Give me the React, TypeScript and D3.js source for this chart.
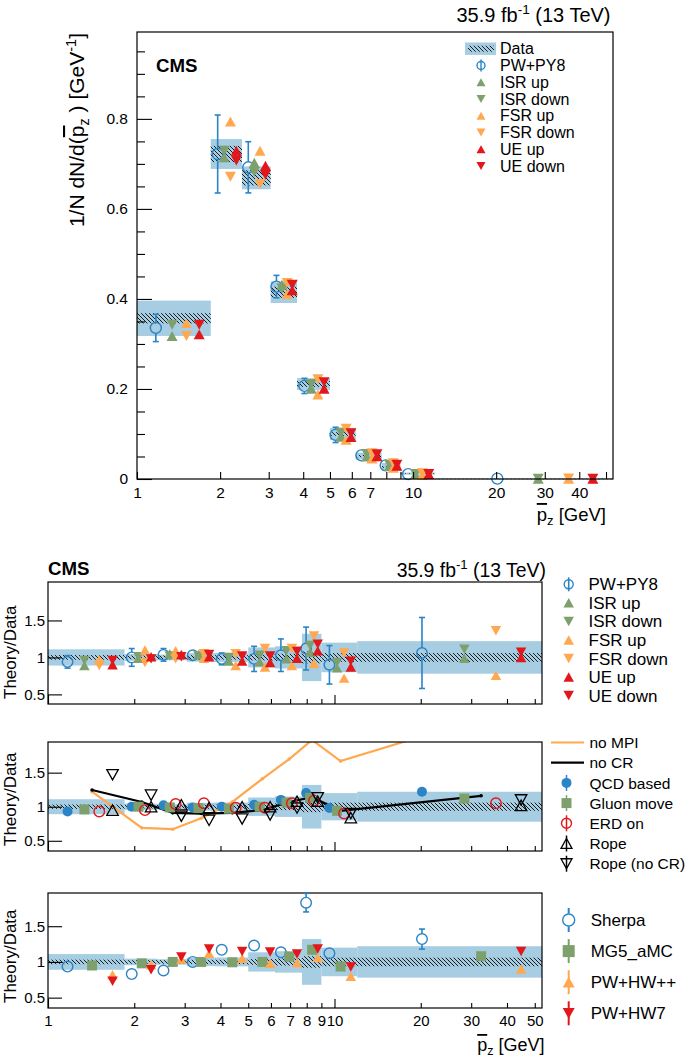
import React, { useEffect, useRef } from 'react';
import * as d3 from 'd3';

// bin edges of the pz distribution [GeV]
const binEdges = [1, 1.85, 2.4, 3.05, 3.8, 5.0, 6.2, 7.7, 9.0, 12, 53];

// unfolded data and its relative uncertainties (total / statistical)
const dataValues = [0.357, 0.722, 0.669, 0.415, 0.211, 0.1, 0.051, 0.027, 0.012, 0.0007];
const dataTotalUnc = [0.11, 0.046, 0.038, 0.058, 0.062, 0.135, 0.15, 0.32, 0.2, 0.22];
const dataStatUnc = [0.032, 0.025, 0.025, 0.03, 0.03, 0.04, 0.05, 0.08, 0.06, 0.06];

// panel 1: PW+PY8 and its variations, theory/data
const pwpy8Ratio = [0.94, 1.0, 1.035, 1.03, 0.98, 0.98, 1.03, 1.12, 0.9, 1.06];
const pwpy8Err = [0.085, 0.12, 0.085, 0.06, 0.08, 0.17, 0.22, 0.29, 0.26, 0.48];
const isrUpRatio = [0.89, 0.99, 1.05, 1.04, 0.95, 0.94, 0.98, 1.07, 0.86, 0.99];
const isrDownRatio = [0.96, 1.01, 1.02, 1.02, 1.0, 1.03, 1.09, 1.16, 0.93, 1.11];
const fsrUpRatio = [0.97, 1.1, 1.09, 0.99, 0.89, 0.87, 0.89, 0.92, 0.72, 0.76];
const fsrDownRatio = [0.89, 0.93, 0.98, 1.05, 1.05, 1.12, 1.12, 1.29, 1.06, 1.36];
const ueUpRatio = [0.9, 1.01, 1.04, 1.01, 0.95, 0.93, 0.99, 1.09, 0.87, 1.0];
const ueDownRatio = [0.96, 0.98, 1.01, 1.04, 1.02, 1.02, 1.08, 1.18, 0.95, 1.07];

// panel 2: colour reconnection / MPI models
const noMpiRatio = [1.22, 0.69, 0.67, 0.83, 1.07, 1.41, 1.7, 1.98, 1.67, 2.3];
const noCrRatio = [1.245, 1.07, 0.91, 0.9, 0.91, 0.95, 1.07, 1.14, 0.94, 1.16];
const qcdBasedRatio = [0.93, 1.0, 1.02, 0.99, 1.0, 1.03, 1.1, 1.2, 0.98, 1.22];
const gluonMoveRatio = [0.96, 1.0, 0.99, 0.98, 0.97, 1.0, 1.06, 1.13, 0.94, 1.12];
const erdOnRatio = [0.93, 0.95, 1.04, 1.05, 0.985, 0.985, 1.05, 1.09, 0.9, 1.05];
const ropeRatio = [0.95, 1.0, 1.03, 0.99, 1.0, 1.0, 1.08, 1.08, 0.84, 1.02];
const ropeNoCrRatio = [1.47, 1.17, 0.86, 0.8, 0.82, 0.88, 0.98, 1.13, 0.9, 1.1];

// panel 3: other generators
const sherpaRatio = [0.935, 0.83, 0.88, 1.0, 1.17, 1.23, 1.135, 1.83, 1.12, 1.32];
const sherpaErr = [0.015, 0.015, 0.015, 0.015, 0.02, 0.02, 0.05, 0.13, 0.08, 0.14];
const mg5Ratio = [0.95, 0.98, 1.0, 1.0, 0.995, 1.0, 1.075, 1.17, 0.935, 1.08];
const hwppRatio = [0.82, 0.96, 1.04, 1.12, 1.05, 0.98, 0.99, 1.06, 0.8, 0.9];
const hw7Ratio = [0.73, 0.89, 1.07, 1.18, 1.145, 1.14, 1.11, 1.18, 0.93, 1.145];

// axis ticks
const xLabelsTop = [1, 2, 3, 4, 5, 6, 7, 10, 20, 30, 40];
const xLabelsBottom = [1, 2, 3, 4, 5, 6, 7, 8, 9, 10, 20, 30, 40, 50];
const xAllTicks = [1, 2, 3, 4, 5, 6, 7, 8, 9, 10, 20, 30, 40, 50];
const yTicksTop = [0, 0.2, 0.4, 0.6, 0.8];
const yTicksRatio = [0.5, 1, 1.5];

const BLUE = '#2b84c5';
const GREEN = '#7ea06d';
const ORANGE = '#ffa850';
const RED = '#e2171c';
const BAND = '#a7cde2';
const FONT = "'Liberation Sans', Arial, Helvetica, sans-serif";

type Sel = d3.Selection<any, unknown, null, undefined>;

// marker position inside a bin: slot 0..3 at 20%..80% of the bin width
const slotX = (i: number, k: number) => binEdges[i] + ((binEdges[i + 1] - binEdges[i]) * (k + 1)) / 5;
const centerX = (i: number) => (binEdges[i] + binEdges[i + 1]) / 2;

const shapePath = (shape: string, s: number) => {
  const h = s * 0.9;
  if (shape === 'up') return `M0,${-h / 2}L${s / 2},${h / 2}L${-s / 2},${h / 2}Z`;
  if (shape === 'down') return `M0,${h / 2}L${s / 2},${-h / 2}L${-s / 2},${-h / 2}Z`;
  return `M${-s / 2},${-s / 2}h${s}v${s}h${-s}Z`;
};

const marker = (p: Sel, shape: string, cx: number, cy: number, color: string, size = 11, open = false) => {
  if (shape === 'circle' || shape === 'dot') {
    p.append('circle')
      .attr('cx', cx)
      .attr('cy', cy)
      .attr('r', size / 2)
      .attr('fill', shape === 'dot' ? color : 'none')
      .attr('stroke', shape === 'dot' ? 'none' : color)
      .attr('stroke-width', 1.4);
    return;
  }
  p.append('path')
    .attr('transform', `translate(${cx},${cy})`)
    .attr('d', shapePath(shape, size))
    .attr('fill', open ? 'none' : color)
    .attr('stroke', open ? color : 'none')
    .attr('stroke-width', 1.3);
};

// vertical error bar with caps, hidden where it falls inside the marker
const errBar = (p: Sel, cx: number, cy: number, yHi: number, yLo: number, gap: number, color: string) => {
  if (cy - gap > yHi + 0.5) {
    p.append('line').attr('x1', cx).attr('x2', cx).attr('y1', yHi).attr('y2', cy - gap);
    p.append('line').attr('x1', cx - 3).attr('x2', cx + 3).attr('y1', yHi).attr('y2', yHi);
  }
  if (cy + gap < yLo - 0.5) {
    p.append('line').attr('x1', cx).attr('x2', cx).attr('y1', cy + gap).attr('y2', yLo);
    p.append('line').attr('x1', cx - 3).attr('x2', cx + 3).attr('y1', yLo).attr('y2', yLo);
  }
  p.selectAll('line').attr('stroke', color).attr('stroke-width', 1.6);
};

const App: React.FC = () => {
  const svgRef = useRef<SVGSVGElement>(null);

  useEffect(() => {
    if (!svgRef.current) return;
    const svg = d3.select(svgRef.current);
    svg.selectAll('*').remove();
    svg.attr('font-family', FONT);

    const defs = svg.append('defs');
    const pat = defs.append('pattern')
      .attr('id', 'hatch')
      .attr('patternUnits', 'userSpaceOnUse')
      .attr('width', 4)
      .attr('height', 4);
    pat.append('path')
      .attr('d', 'M-1,-1L5,5M-1,3L1,5M3,-1L5,1')
      .attr('stroke', '#1b1b1b')
      .attr('stroke-width', 1);

    // ---------------- top panel ----------------
    const T = { left: 137, right: 613, top: 32, bottom: 479 };
    const xTop = d3.scaleLog().domain([1, 53]).range([T.left, T.right]);
    const yTop = d3.scaleLinear().domain([0, 0.993]).range([T.bottom, T.top]);
    const top = svg.append('g');

    top.selectAll('rect.tot').data(dataValues).enter().append('rect')
      .attr('x', (_, i) => xTop(binEdges[i]))
      .attr('width', (_, i) => xTop(binEdges[i + 1]) - xTop(binEdges[i]))
      .attr('y', (d, i) => yTop(d * (1 + dataTotalUnc[i])))
      .attr('height', (d, i) => Math.max(0.6, yTop(d * (1 - dataTotalUnc[i])) - yTop(d * (1 + dataTotalUnc[i]))))
      .attr('fill', BAND);
    top.selectAll('rect.stat').data(dataValues).enter().append('rect')
      .attr('x', (_, i) => xTop(binEdges[i]))
      .attr('width', (_, i) => xTop(binEdges[i + 1]) - xTop(binEdges[i]))
      .attr('y', (d, i) => yTop(d * (1 + dataStatUnc[i])))
      .attr('height', (d, i) => Math.max(0.6, yTop(d * (1 - dataStatUnc[i])) - yTop(d * (1 + dataStatUnc[i]))))
      .attr('fill', 'url(#hatch)');

    const topSeries = [
      { ratio: pwpy8Ratio, err: pwpy8Err, slot: 0, shape: 'circle', color: BLUE },
      { ratio: isrUpRatio, slot: 1, shape: 'up', color: GREEN },
      { ratio: isrDownRatio, slot: 1, shape: 'down', color: GREEN },
      { ratio: fsrUpRatio, slot: 2, shape: 'up', color: ORANGE },
      { ratio: fsrDownRatio, slot: 2, shape: 'down', color: ORANGE },
      { ratio: ueUpRatio, slot: 3, shape: 'up', color: RED },
      { ratio: ueDownRatio, slot: 3, shape: 'down', color: RED }
    ];
    topSeries.forEach(s => {
      const g = top.append('g');
      dataValues.forEach((d, i) => {
        const cx = xTop(slotX(i, s.slot));
        const v = d * s.ratio[i];
        const cy = yTop(v);
        if (s.err) {
          errBar(g.append('g'), cx, cy, yTop(v + d * s.err[i]), yTop(Math.max(0, v - d * s.err[i])), 5.5, s.color);
        }
        marker(g, s.shape, cx, cy, s.color, 11);
      });
    });

    top.append('rect')
      .attr('x', T.left).attr('y', T.top)
      .attr('width', T.right - T.left).attr('height', T.bottom - T.top)
      .attr('fill', 'none').attr('stroke', '#000').attr('stroke-width', 1.2);

    const yAxisTop = top.append('g').attr('transform', `translate(${T.left},0)`)
      .call(d3.axisLeft(yTop).tickValues(yTicksTop).tickSize(-15).tickPadding(9)
        .tickFormat(d => (+d === 0 ? '0' : d3.format('.1f')(+d))));
    top.append('g').attr('transform', `translate(${T.left},0)`)
      .call(d3.axisLeft(yTop).tickValues(d3.range(0.05, 0.99, 0.05).filter(v => Math.abs(v * 5 - Math.round(v * 5)) > 0.01))
        .tickSize(-8).tickFormat(() => ''));
    const xAxisTop = top.append('g').attr('transform', `translate(0,${T.bottom})`)
      .call(d3.axisBottom(xTop).tickValues(xAllTicks).tickSize(-7).tickPadding(8)
        .tickFormat(d => (xLabelsTop.includes(+d) ? String(d) : '')));
    [yAxisTop, xAxisTop].forEach(a => a.selectAll('text').attr('font-size', 15.5).attr('fill', '#000').attr('font-family', FONT));
    top.selectAll('.domain').remove();
    top.selectAll('.tick line').attr('stroke', '#000').attr('stroke-width', 1.1);

    // y title
    const yt = top.append('text')
      .attr('transform', `translate(84,33) rotate(-90)`)
      .attr('text-anchor', 'end')
      .attr('font-size', 21);
    yt.append('tspan').text('1/N dN/d(');
    yt.append('tspan').style('text-decoration', 'overline').text('p');
    yt.append('tspan').attr('dy', 4.5).attr('font-size', 14.5).text('z');
    yt.append('tspan').attr('dy', -4.5).text(' )  [GeV');
    yt.append('tspan').attr('dy', -8).attr('font-size', 14.5).text('-1');
    yt.append('tspan').attr('dy', 8).text(']');

    const xt = top.append('text').attr('x', 606).attr('y', 521).attr('text-anchor', 'end').attr('font-size', 18.5);
    xt.append('tspan').style('text-decoration', 'overline').text('p');
    xt.append('tspan').attr('dy', 4).attr('font-size', 13).text('z');
    xt.append('tspan').attr('dy', -4).text(' [GeV]');

    top.append('text').attr('x', 156).attr('y', 72).attr('font-size', 18.7).attr('font-weight', 'bold').text('CMS');
    const lumi = (x: number, y: number, fs: number) => {
      const t = svg.append('text').attr('x', x).attr('y', y).attr('text-anchor', 'end').attr('font-size', fs);
      t.append('tspan').text('35.9 fb');
      t.append('tspan').attr('dy', -8).attr('font-size', fs * 0.68).text('-1');
      t.append('tspan').attr('dy', 8).text(' (13 TeV)');
    };
    lumi(610.5, 22, 20);

    // top legend
    const topLegend = [
      { label: 'Data', shape: 'data', color: BAND },
      { label: 'PW+PY8', shape: 'circle', color: BLUE },
      { label: 'ISR up', shape: 'up', color: GREEN },
      { label: 'ISR down', shape: 'down', color: GREEN },
      { label: 'FSR up', shape: 'up', color: ORANGE },
      { label: 'FSR down', shape: 'down', color: ORANGE },
      { label: 'UE up', shape: 'up', color: RED },
      { label: 'UE down', shape: 'down', color: RED }
    ];
    topLegend.forEach((e, k) => {
      const cy = 48.7 + k * 16.75;
      if (e.shape === 'data') {
        top.append('rect').attr('x', 465).attr('y', cy - 6.2).attr('width', 31).attr('height', 12.4).attr('fill', BAND);
        top.append('rect').attr('x', 468).attr('y', cy - 3).attr('width', 26).attr('height', 6).attr('fill', 'url(#hatch)');
      } else {
        if (e.shape === 'circle') {
          top.append('line').attr('x1', 481).attr('x2', 481).attr('y1', cy - 6).attr('y2', cy + 6)
            .attr('stroke', e.color).attr('stroke-width', 1.4);
          marker(top, 'circle', 481, cy, e.color, 8);
        } else {
          marker(top, e.shape, 481, cy, e.color, 9);
        }
      }
      top.append('text').attr('x', 500).attr('y', cy + 5.7).attr('font-size', 16).text(e.label);
    });

    // ---------------- ratio panels ----------------
    const xR = d3.scaleLog().domain([1, 53]).range([48, 542]);
    const ratioPanel = (id: string, topY: number, bottomY: number, lo: number, hi: number, labels: boolean) => {
      const y = d3.scaleLinear().domain([lo, hi]).range([bottomY, topY]);
      const g = svg.append('g');
      defs.append('clipPath').attr('id', id).append('rect')
        .attr('x', 48).attr('y', topY).attr('width', 494).attr('height', bottomY - topY);
      const inner = g.append('g').attr('clip-path', `url(#${id})`);
      inner.selectAll('rect.tot').data(dataTotalUnc).enter().append('rect')
        .attr('x', (_, i) => xR(binEdges[i]))
        .attr('width', (_, i) => xR(binEdges[i + 1]) - xR(binEdges[i]))
        .attr('y', d => y(1 + d))
        .attr('height', d => y(1 - d) - y(1 + d))
        .attr('fill', BAND);
      inner.selectAll('rect.stat').data(dataStatUnc).enter().append('rect')
        .attr('x', (_, i) => xR(binEdges[i]))
        .attr('width', (_, i) => xR(binEdges[i + 1]) - xR(binEdges[i]))
        .attr('y', d => y(1 + d))
        .attr('height', d => y(1 - d) - y(1 + d))
        .attr('fill', 'url(#hatch)');
      const axes = g.append('g');
      axes.append('g').attr('transform', 'translate(48,0)')
        .call(d3.axisLeft(y).tickValues(yTicksRatio).tickSize(-14).tickPadding(3)
          .tickFormat(d => String(d)));
      axes.append('g').attr('transform', `translate(0,${bottomY})`)
        .call(d3.axisBottom(xR).tickValues(xAllTicks.filter(v => v !== 10 && v !== 1)).tickSize(-5).tickPadding(7)
          .tickFormat(d => (labels && xLabelsBottom.includes(+d) ? String(d) : '')));
      const dec = axes.append('g').attr('transform', `translate(0,${bottomY})`)
        .call(d3.axisBottom(xR).tickValues([1, 10]).tickSize(-9).tickPadding(7)
          .tickFormat(d => (labels ? String(d) : '')));
      dec.selectAll('text').attr('y', 7);
      axes.selectAll('.domain').remove();
      axes.selectAll('.tick line').attr('stroke', '#000').attr('stroke-width', 1.1);
      axes.selectAll('text').attr('font-size', 15).attr('fill', '#000').attr('font-family', FONT);
      g.append('rect').attr('x', 48).attr('y', topY).attr('width', 494).attr('height', bottomY - topY)
        .attr('fill', 'none').attr('stroke', '#000').attr('stroke-width', 1.2);
      g.append('text')
        .attr('transform', `translate(16,${bottomY - 5}) rotate(-90)`)
        .attr('font-size', 17)
        .text('Theory/Data');
      return { g, inner, y };
    };

    // panel 1
    const p1 = ratioPanel('clip1', 582, 704, 0.37, 2.02, false);
    topSeries.forEach(s => {
      const g = p1.g.append('g');
      s.ratio.forEach((r, i) => {
        const cx = xR(slotX(i, s.slot));
        const cy = p1.y(r);
        if (s.err) errBar(g.append('g'), cx, cy, p1.y(r + s.err[i]), p1.y(r - s.err[i]), 5, s.color);
        marker(g, s.shape, cx, cy, s.color, 10.5);
      });
    });
    svg.append('text').attr('x', 48).attr('y', 575).attr('font-size', 18.7).attr('font-weight', 'bold').text('CMS');
    lumi(546, 577, 19.4);
    const p1Legend = [
      { label: 'PW+PY8', shape: 'circle', color: BLUE },
      { label: 'ISR up', shape: 'up', color: GREEN },
      { label: 'ISR down', shape: 'down', color: GREEN },
      { label: 'FSR up', shape: 'up', color: ORANGE },
      { label: 'FSR down', shape: 'down', color: ORANGE },
      { label: 'UE up', shape: 'up', color: RED },
      { label: 'UE down', shape: 'down', color: RED }
    ];
    p1Legend.forEach((e, k) => {
      const cy = 584.3 + k * 18.55;
      if (e.shape === 'circle') {
        svg.append('line').attr('x1', 568.7).attr('x2', 568.7).attr('y1', cy - 7).attr('y2', cy + 7)
          .attr('stroke', e.color).attr('stroke-width', 1.6);
        marker(svg, 'circle', 568.7, cy, e.color, 9);
      } else marker(svg, e.shape, 568.7, cy, e.color, 10.5);
      svg.append('text').attr('x', 588.5).attr('y', cy + 6).attr('font-size', 17).text(e.label);
    });

    // panel 2
    const p2 = ratioPanel('clip2', 742, 851, 0.35, 1.95, false);
    const lineGen = d3.line<number>().x((_, i) => xR(centerX(i))).y(d => p2.y(d));
    [{ ratio: noMpiRatio, color: ORANGE }, { ratio: noCrRatio, color: '#000' }].forEach(l => {
      p2.inner.append('path').attr('d', lineGen(l.ratio)).attr('fill', 'none')
        .attr('stroke', l.color).attr('stroke-width', 2.2);
      l.ratio.forEach((r, i) => p2.inner.append('circle').attr('cx', xR(centerX(i))).attr('cy', p2.y(r))
        .attr('r', 1.8).attr('fill', l.color));
    });
    const p2Series = [
      { ratio: qcdBasedRatio, slot: 0, shape: 'dot', color: BLUE, open: false, size: 10 },
      { ratio: gluonMoveRatio, slot: 1, shape: 'square', color: GREEN, open: false, size: 10 },
      { ratio: erdOnRatio, slot: 2, shape: 'circle', color: RED, open: false, size: 10.5 },
      { ratio: ropeRatio, slot: 3, shape: 'up', color: '#000', open: true, size: 11.5 },
      { ratio: ropeNoCrRatio, slot: 3, shape: 'down', color: '#000', open: true, size: 11.5 }
    ];
    p2Series.forEach(s => {
      const g = p2.g.append('g');
      s.ratio.forEach((r, i) => {
        marker(g, s.shape, xR(slotX(i, s.slot)), p2.y(r), s.color, s.size, s.open);
      });
    });
    const p2Legend = [
      { label: 'no MPI', shape: 'line', color: ORANGE },
      { label: 'no CR', shape: 'line', color: '#000' },
      { label: 'QCD based', shape: 'dot', color: BLUE },
      { label: 'Gluon move', shape: 'square', color: GREEN },
      { label: 'ERD on', shape: 'circle', color: RED },
      { label: 'Rope', shape: 'up', color: '#000' },
      { label: 'Rope (no CR)', shape: 'down', color: '#000' }
    ];
    p2Legend.forEach((e, k) => {
      const cy = 742.5 + k * 20.2;
      if (e.shape === 'line') {
        svg.append('line').attr('x1', 551).attr('x2', 584).attr('y1', cy).attr('y2', cy)
          .attr('stroke', e.color).attr('stroke-width', 2.2);
      } else {
        svg.append('line').attr('x1', 566.5).attr('x2', 566.5).attr('y1', cy - 8).attr('y2', cy + 8)
          .attr('stroke', e.color).attr('stroke-width', 1.5);
        marker(svg, e.shape, 566.5, cy, e.color, e.shape === 'up' || e.shape === 'down' ? 11 : 10, e.color === '#000');
      }
      svg.append('text').attr('x', 589.5).attr('y', cy + 5.6).attr('font-size', 15.5).text(e.label);
    });

    // panel 3
    const p3 = ratioPanel('clip3', 893, 1008, 0.355, 1.965, true);
    const s3 = p3.g.append('g');
    sherpaRatio.forEach((r, i) => {
      const cx = xR(slotX(i, 0));
      const cy = p3.y(r);
      errBar(s3.append('g'), cx, cy, p3.y(r + sherpaErr[i]), p3.y(r - sherpaErr[i]), 5.3, BLUE);
      marker(s3, 'circle', cx, cy, BLUE, 10.6);
    });
    mg5Ratio.forEach((r, i) => marker(s3, 'square', xR(centerX(i)), p3.y(r), GREEN, 10));
    hwppRatio.forEach((r, i) => marker(s3, 'up', xR(slotX(i, 3)), p3.y(r), ORANGE, 10.5));
    hw7Ratio.forEach((r, i) => marker(s3, 'down', xR(slotX(i, 3)), p3.y(r), RED, 10.5));
    const p3Legend = [
      { label: 'Sherpa', shape: 'circle', color: BLUE },
      { label: 'MG5_aMC', shape: 'square', color: GREEN },
      { label: 'PW+HW++', shape: 'up', color: ORANGE },
      { label: 'PW+HW7', shape: 'down', color: RED }
    ];
    p3Legend.forEach((e, k) => {
      const cy = 920 + k * 31.1;
      svg.append('line').attr('x1', 568.7).attr('x2', 568.7).attr('y1', cy - 12).attr('y2', cy + 12)
        .attr('stroke', e.color).attr('stroke-width', 2);
      if (e.shape === 'circle') {
        svg.append('circle').attr('cx', 568.7).attr('cy', cy).attr('r', 6.5).attr('fill', '#fff');
        marker(svg, 'circle', 568.7, cy, e.color, 12);
      } else marker(svg, e.shape, 568.7, cy, e.color, 12);
      svg.append('text').attr('x', 590.7).attr('y', cy + 6).attr('font-size', 17).text(e.label);
    });
    const xt3 = svg.append('text').attr('x', 544.5).attr('y', 1051).attr('text-anchor', 'end').attr('font-size', 18);
    xt3.append('tspan').style('text-decoration', 'overline').text('p');
    xt3.append('tspan').attr('dy', 4).attr('font-size', 12.5).text('z');
    xt3.append('tspan').attr('dy', -4).text(' [GeV]');
  }, []);

  return (
    <div style={{ position: 'absolute', left: 0, top: 0, width: 685, height: 1064, background: '#fff' }}>
      <svg ref={svgRef} width={685} height={1064} style={{ display: 'block' }} />
    </div>
  );
};

export default App;
